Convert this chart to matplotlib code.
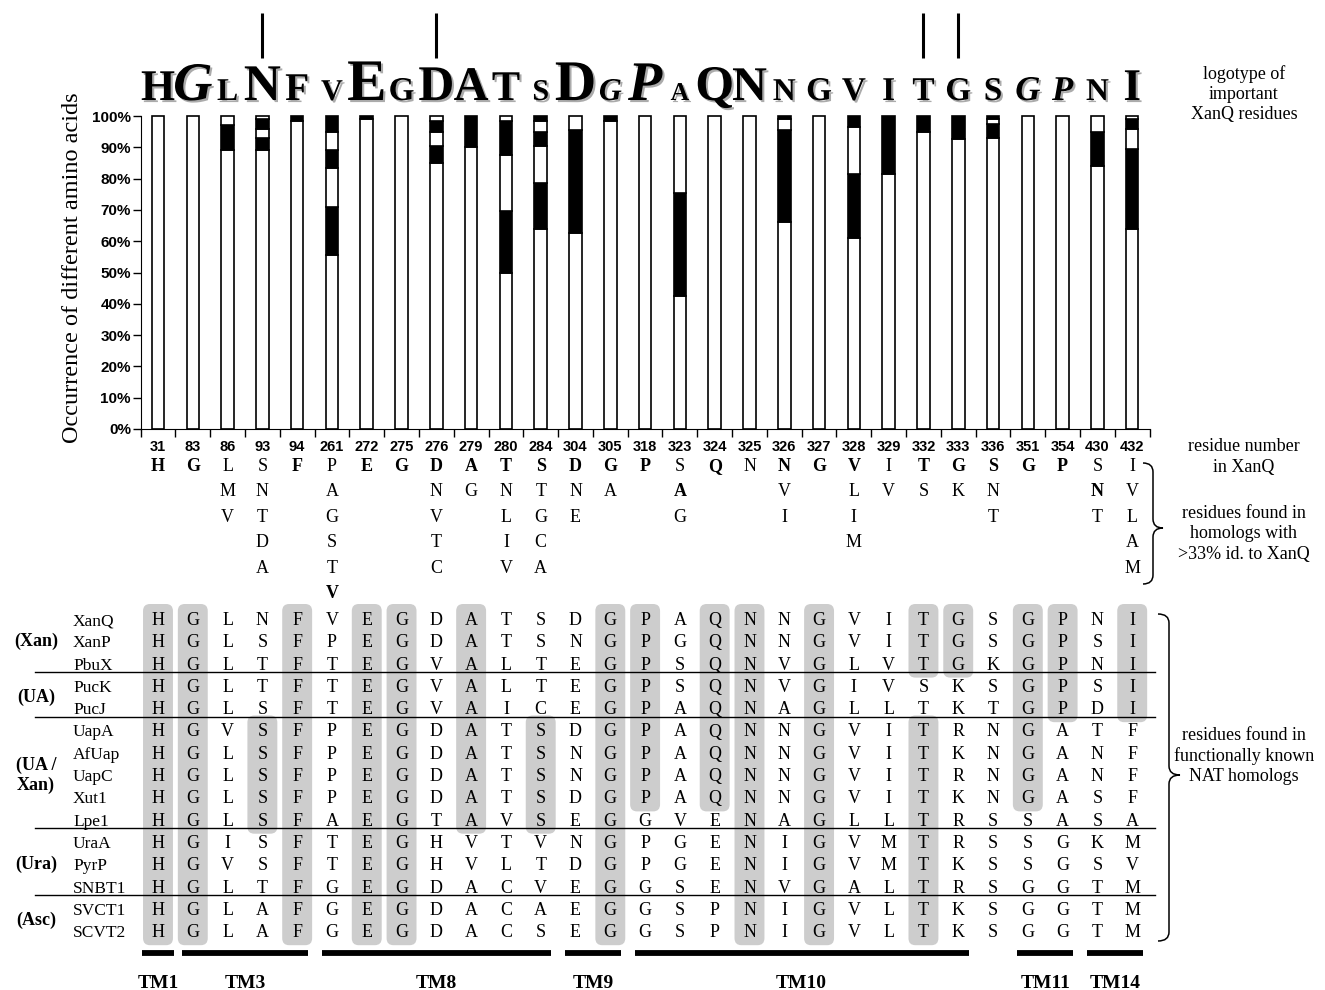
import numpy as np
import matplotlib.pyplot as plt
import matplotlib.patheffects as pe
from matplotlib.patches import FancyBboxPatch, PathPatch
from matplotlib.path import Path

# residus de XanQ
positions = ['31', '83', '86', '93', '94', '261', '272', '275', '276', '279',
             '280', '284', '304', '305', '318', '323', '324', '325', '326', '327',
             '328', '329', '332', '333', '336', '351', '354', '430', '432']
logo = list('HGLNFVEGDATSDGPAQNNGVITGSGPNI')
logo_h = [29, 36, 21, 34, 26, 20, 39, 22, 33, 32, 28, 20, 38, 21, 37, 17, 33,
          32, 21, 22, 22, 22, 22, 22, 22, 23, 23, 21, 30]
logo_italic = [1, 13, 14, 25, 26]
marked = [3, 8, 22, 23]

# occurrence (%) des acides amines, du bas vers le haut (blanc / noir alternes)
occ = [
    [100], [100], [89, 8, 3], [89, 4, 3, 3, 1], [98.5, 1.5],
    [55.5, 15.5, 12.5, 5.5, 6, 5], [99, 1], [100], [85, 5.5, 4.5, 3.5, 1.5],
    [90, 10], [50, 19.5, 18, 11, 1.5], [64, 14.5, 12, 4.5, 3.5, 1.5],
    [62.5, 33, 4.5], [98.5, 1.5], [100], [42.5, 33, 24.5], [100], [100],
    [66, 29.5, 3.5, 1], [100], [61, 20.5, 15, 3.5], [81.5, 18.5], [95, 5],
    [92.5, 7.5], [93, 4.5, 1.5, 1], [100], [100], [84, 11, 5],
    [64, 25.5, 6.5, 3, 1],
]

# residus trouves dans les homologues (>33% id.)
variants = ['H', 'G', 'LMV', 'SNTDA', 'F', 'PAGSTV', 'E', 'G', 'DNVTC', 'AG',
            'TNLIV', 'STGCA', 'DNE', 'GA', 'P', 'SAG', 'Q', 'N', 'NVI', 'G',
            'VLIM', 'IV', 'TS', 'GK', 'SNT', 'G', 'P', 'SNT', 'IVLAM']
variants_plain0 = [2, 3, 5, 15, 17, 21, 27, 28]
variants_bold = [(5, 5), (15, 1), (27, 1)]

# alignement des homologues NAT
names = ['XanQ', 'XanP', 'PbuX', 'PucK', 'PucJ', 'UapA', 'AfUap', 'UapC',
         'Xut1', 'Lpe1', 'UraA', 'PyrP', 'SNBT1', 'SVCT1', 'SCVT2']
aln = [
    'HGLNFVEGDATSDGPAQNNGVITGSGPNI',
    'HGLSFPEGDATSNGPGQNNGVITGSGPSI',
    'HGLTFTEGVALTEGPSQNVGLVTGKGPNI',
    'HGLTFTEGVALTEGPSQNVGIVSKSGPSI',
    'HGLSFTEGVAICEGPAQNAGLLTKTGPDI',
    'HGVSFPEGDATSDGPAQNNGVITRNGATF',
    'HGLSFPEGDATSNGPAQNNGVITKNGANF',
    'HGLSFPEGDATSNGPAQNNGVITRNGANF',
    'HGLSFPEGDATSDGPAQNNGVITKNGASF',
    'HGLSFAEGTAVSEGGVENAGLLTRSSASA',
    'HGISFTEGHVTVNGPGENIGVMTRSSGKM',
    'HGVSFTEGHVLTDGPGENIGVMTKSSGSV',
    'HGLTFGEGDACVEGGSENVGALTRSGGTM',
    'HGLAFGEGDACAEGGSPNIGVLTKSGGTM',
    'HGLAFGEGDACSEGGSPNIGVLTKSGGTM',
]
groups = ['(Xan)', '(UA)', '(UA /\nXan)', '(Ura)', '(Asc)']
group_sizes = [3, 2, 5, 3, 2]
# colonnes grisees : (colonne, premiere ligne, derniere ligne)
boxes = [(0, 0, 14), (1, 0, 14), (3, 5, 9), (4, 0, 14), (6, 0, 14), (7, 0, 14),
         (9, 0, 9), (11, 5, 9), (13, 0, 14), (14, 0, 8), (16, 0, 8), (17, 0, 14),
         (19, 0, 14), (22, 0, 2), (22, 5, 14), (23, 0, 2), (25, 0, 8),
         (26, 0, 4), (28, 0, 4)]
tm = [('TM1', 0, 0), ('TM3', 1, 4), ('TM8', 5, 11), ('TM9', 12, 13),
      ('TM10', 14, 23), ('TM11', 25, 26), ('TM14', 27, 28)]

W, H = 1325, 990
L0, AW = 140.6, 1009.0
DX = AW / 29
serif = 'Liberation Serif'


def cx(px):
    return (px - L0) / DX - 0.5


fig = plt.figure(figsize=(W / 100, H / 100), dpi=100)
ax = fig.add_axes([L0 / W, 1 - 429 / H, AW / W, 313 / H])

for i, segs in enumerate(occ):
    bottom = 0
    for k, h in enumerate(segs):
        ax.bar(i, h, bottom=bottom, width=0.36,
               color='white' if k % 2 == 0 else 'black',
               edgecolor='black', linewidth=1.2, clip_on=False)
        bottom += h

ax.set_xlim(-0.5, 28.5)
ax.set_ylim(0, 100)
for s in ['top', 'right']:
    ax.spines[s].set_visible(False)
ax.set_xticks(np.arange(-0.5, 29, 1))
ax.set_xticklabels([])
ax.set_yticks(range(0, 101, 10))
ax.set_yticklabels([f'{v}%' for v in range(0, 101, 10)],
                   family='Liberation Sans', weight='bold', fontsize=11)
ax.tick_params(direction='out', length=6, width=1, pad=1)

# couche de texte : x en colonnes, y en pixels
ov = fig.add_axes([L0 / W, 0, AW / W, 1])
ov.set_xlim(-0.5, 28.5)
ov.set_ylim(H, 0)
ov.axis('off')

ov.text(cx(72), 268, 'Occurrence of different amino acids', rotation=90,
        ha='center', va='center', family=serif, fontsize=17.5)

# logotype
shadow = [pe.withSimplePatchShadow(offset=(1.5, -1.5), shadow_rgbFace='0.45',
                                   alpha=0.6)]
for i, (c, h) in enumerate(zip(logo, logo_h)):
    fs = h / 0.662 / (100 / 72)
    ov.text(i, 100, c, ha='center', va='baseline', family=serif, weight='bold',
            style='italic' if i in logo_italic else 'normal', fontsize=fs,
            path_effects=shadow)
ov.vlines(marked, 13, 58, color='black', lw=2.2)

# numeros et residus
for i, p in enumerate(positions):
    ov.text(i, 451, p, ha='center', va='baseline',
            family=['Liberation Sans Narrow', 'Liberation Sans'],
            weight='bold', fontsize=10.5)
    for k, c in enumerate(variants[i]):
        bold = (k == 0 and i not in variants_plain0) or (i, k) in variants_bold
        ov.text(i, 465 + 25.4 * k + 6, c, ha='center', va='baseline',
                family=serif, weight='bold' if bold else 'normal', fontsize=13)


def row_y(r):
    return 619 + 22.3 * r


for col, r0, r1 in boxes:
    top = row_y(r0) - 15
    ov.add_patch(FancyBboxPatch((col - 0.43, top), 0.86, row_y(r1) + 14 - top,
                                boxstyle='round,pad=0,rounding_size=0.2',
                                mutation_aspect=DX, fc='#cdcdcd', ec='none',
                                zorder=1))

for r, (nm, seq) in enumerate(zip(names, aln)):
    y = row_y(r) + 6
    ov.text(cx(73), y, nm, ha='left', va='baseline', family=serif,
            fontsize=12.5, zorder=3)
    for i, c in enumerate(seq):
        ov.text(i, y, c, ha='center', va='baseline', family=serif,
                fontsize=13, zorder=3)

r = 0
for g, n in zip(groups, group_sizes):
    ov.text(cx(36), row_y(r + (n - 1) / 2), g, ha='center', va='center',
            family=serif, weight='bold', fontsize=13, linespacing=1.2, zorder=3)
    r += n
    if r < len(names):
        ov.plot([cx(35), cx(1155)], [row_y(r - 1) + 8.5] * 2, color='black',
                lw=1, zorder=2, clip_on=False)

for lab, a, b in tm:
    ext = 0.45 if a == b else 0.3
    ov.plot([a - ext, b + ext], [953, 953], color='black', lw=4.2,
            solid_capstyle='butt', clip_on=False)
    ov.text((a + b) / 2, 988, lab, ha='center', va='baseline', family=serif,
            weight='bold', fontsize=14)


def brace(x, y0, y1, ym, w):
    xm = x + w / 2
    r = 9
    verts = [(x, y0), (xm, y0), (xm, y0 + r), (xm, ym - r), (xm, ym),
             (x + w, ym), (xm, ym), (xm, ym + r), (xm, y1 - r), (xm, y1),
             (x, y1)]
    codes = [Path.MOVETO, Path.CURVE3, Path.CURVE3, Path.LINETO, Path.CURVE3,
             Path.CURVE3, Path.CURVE3, Path.CURVE3, Path.LINETO, Path.CURVE3,
             Path.CURVE3]
    ov.add_patch(PathPatch(Path(verts, codes), fc='none', ec='black', lw=1.1,
                           clip_on=False))


brace(cx(1143), 463, 584, 528, 20 / DX)
brace(cx(1158), 614, 941, 775, 22 / DX)

xr = cx(1244)
kw = dict(ha='center', va='center', family=serif, fontsize=13, linespacing=1.25)
ov.text(xr, 94, 'logotype of\nimportant\nXanQ residues', **kw)
ov.text(xr, 457, 'residue number\nin XanQ', **kw)
ov.text(xr, 534, 'residues found in\nhomologs with\n>33% id. to XanQ', **kw)
ov.text(xr, 756, 'residues found in\nfunctionally known\nNAT homologs', **kw)

plt.savefig('out.png', dpi=100)
